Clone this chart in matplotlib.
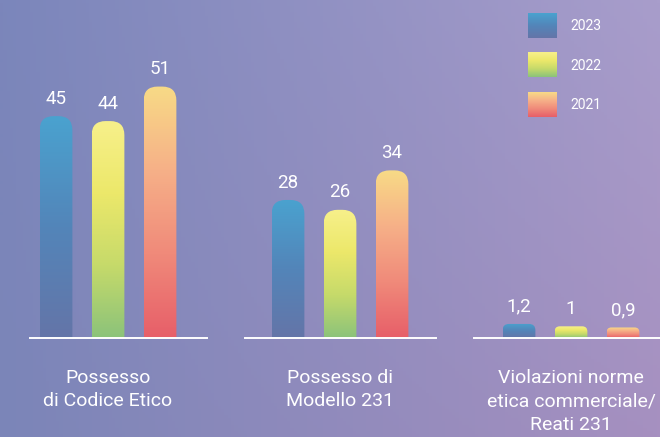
import matplotlib
matplotlib.use('Agg')
import matplotlib.pyplot as plt
import numpy as np
from matplotlib.colors import LinearSegmentedColormap, to_rgb
from matplotlib.path import Path
from matplotlib.patches import PathPatch
from matplotlib.transforms import IdentityTransform

# Data
years = ['2023', '2022', '2021']
groups = ['Possesso\ndi Codice Etico', 'Possesso di\nModello 231',
          'Violazioni norme\netica commerciale/\nReati 231']
vals_2023 = [45, 28, 1.2]
vals_2022 = [44, 26, 1]
vals_2021 = [51, 34, 0.9]
series = [vals_2023, vals_2022, vals_2021]

# gradients, bottom -> top
grad_2023 = ['#6475a8', '#5385b9', '#4aa2cf']
grad_2022 = ['#8cc37a', '#c6da6a', '#ece86a', '#f7f08a']
grad_2021 = ['#e75f69', '#f08a7a', '#f6b088', '#f8da86']
cmaps = [LinearSegmentedColormap.from_list(y, g) for y, g in zip(years, [grad_2023, grad_2022, grad_2021])]

W, H = 660, 437
BASE = 338  # baseline, px from top
fig = plt.figure(figsize=(W / 100, H / 100), dpi=100)

# background gradient
bg = fig.add_axes([0, 0, 1, 1])
bg.set_axis_off()
tl, tr, bl, br = [np.array(to_rgb(c)) for c in ['#7b86bb', '#a89dcb', '#7b85b8', '#a690c0']]
u = np.linspace(0, 1, 200)[None, :, None]
v = np.linspace(0, 1, 140)[:, None, None]
img = (1 - v) * ((1 - u) * tl + u * tr) + v * ((1 - u) * bl + u * br)
bg.imshow(img, extent=(0, W, H, 0), aspect='auto')

# legend swatches
for i, (yr, cm) in enumerate(zip(years, cmaps)):
    top = 13 + i * 39.5
    grad = np.linspace(1, 0, 50)[:, None]
    bg.imshow(grad, cmap=cm, extent=(528, 557, top + 25, top), aspect='auto', vmin=0, vmax=1)
    bg.text(570, top + 13, yr, color='white', fontsize=10, va='center', ha='left', family='Roboto')
bg.set_xlim(0, W)
bg.set_ylim(H, 0)

# group layout: left px, right px, first bar center px, px per unit
layout = [(30, 207, 56, 4.93), (245, 436, 288, 4.93), (474, 660, 519, 11.7)]
step = 52.0
bar_w = 0.63


def fmt(v):
    return f'{v:g}'.replace('.', ',')


for gi, (left, right, c0, ppu) in enumerate(layout):
    ax = fig.add_axes([left / W, (H - BASE) / H, (right - left) / W, BASE / H])
    ax.set_axis_off()
    ax.set_autoscale_on(False)
    xlim = ((left - c0) / step, (right - c0) / step)
    ylim = (0, BASE / ppu)
    ax.set_xlim(*xlim)
    ax.set_ylim(*ylim)
    for si in range(3):
        val = series[si][gi]
        x = si
        (x0, y0) = ax.transData.transform((x - bar_w / 2, 0))
        (x1, y1) = ax.transData.transform((x + bar_w / 2, val))
        r = min(14, 0.45 * (y1 - y0))
        verts = [(x0, y0), (x0, y1 - r), (x0, y1), (x0 + r, y1), (x1 - r, y1),
                 (x1, y1), (x1, y1 - r), (x1, y0), (x0, y0)]
        codes = [Path.MOVETO, Path.LINETO, Path.CURVE3, Path.CURVE3, Path.LINETO,
                 Path.CURVE3, Path.CURVE3, Path.LINETO, Path.CLOSEPOLY]
        clip = PathPatch(Path(verts, codes), transform=IdentityTransform(),
                         facecolor='none', edgecolor='none')
        ax.add_patch(clip)
        grad = np.linspace(1, 0, 100)[:, None]
        im = ax.imshow(grad, cmap=cmaps[si], vmin=0, vmax=1, aspect='auto',
                       extent=(x - bar_w / 2, x + bar_w / 2, 0, val))
        im.set_clip_path(clip)
        ax.annotate(fmt(val), xy=(x, val), xytext=(0, 6), textcoords='offset points',
                    ha='center', va='bottom', color='white', fontsize=13.5, family='Roboto')
    ax.axhline(0, color='white', lw=1.4, clip_on=False)
    ax.annotate(groups[gi], xy=(1, 0), xytext=(0, -22), textcoords='offset points',
                ha='center', va='top', color='white', fontsize=14, family='Roboto',
                linespacing=1.42, annotation_clip=False)
    ax.set_xlim(*xlim)
    ax.set_ylim(*ylim)

fig.savefig('out.png', dpi=100)
